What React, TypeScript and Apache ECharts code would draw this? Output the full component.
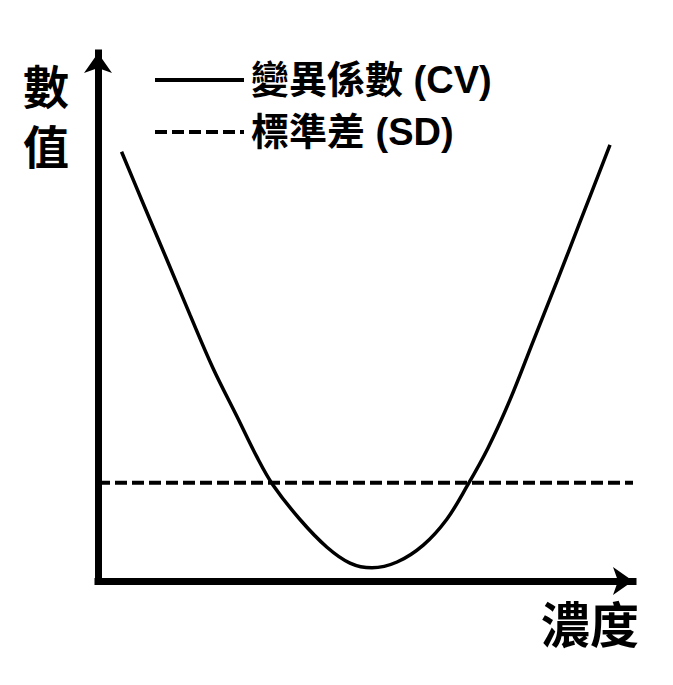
import React, { useEffect, useRef } from 'react';
import * as echarts from 'echarts';

// concentration (x) and values, both axes run 0..10
const cvConc = [0.44, 0.84, 1.29, 1.72, 2.15, 2.6, 2.97, 3.27, 3.78, 4.28, 4.71, 5.12, 5.59, 6.08, 6.52, 6.9, 7.29, 7.7, 8.13, 8.58, 9.01, 9.57];
const cvValues = [8.13, 7.16, 6.08, 5.04, 4.03, 3.11, 2.35, 1.82, 1.16, 0.64, 0.34, 0.25, 0.36, 0.68, 1.17, 1.8, 2.52, 3.43, 4.53, 5.68, 6.8, 8.26];
const sdConc = [0, 10];
const sdValues = [1.86, 1.86];

const seriesNames = ['變異係數 (CV)', '標準差 (SD)'];
const yAxisTitle = '數\n值';
const xAxisTitle = '濃度';

const FONT = '"Liberation Sans", "Noto Sans CJK TC", sans-serif';

export default function App(): JSX.Element {
    const chartRef = useRef<HTMLDivElement>(null);

    useEffect(() => {
        if (chartRef.current === null) return;
        const chart = echarts.init(chartRef.current, undefined, { renderer: 'svg' });

        const axisLine = {
            show: true,
            symbol: ['none', 'arrow'],
            symbolSize: [21, 20],
            lineStyle: { color: '#000', width: 7, cap: 'square' },
        };

        const option: echarts.EChartsOption = {
            animation: false,
            backgroundColor: '#fff',
            grid: { left: 98, right: 40, top: 53, bottom: 104 },
            xAxis: {
                type: 'value',
                min: 0,
                max: 10,
                axisLine: axisLine as any,
                axisTick: { show: false },
                axisLabel: { show: false },
                splitLine: { show: false },
            },
            yAxis: {
                type: 'value',
                min: 0,
                max: 10,
                axisLine: axisLine as any,
                axisTick: { show: false },
                axisLabel: { show: false },
                splitLine: { show: false },
            },
            legend: {
                orient: 'vertical',
                left: 148,
                top: 56,
                itemWidth: 89,
                itemHeight: 14,
                itemGap: 14,
                itemStyle: { opacity: 0 },
                lineStyle: { width: 4 },
                textStyle: {
                    color: '#000',
                    fontSize: 38,
                    fontWeight: 'bold',
                    fontFamily: FONT,
                    lineHeight: 36,
                    padding: [0, 0, 0, 2],
                },
                data: seriesNames,
            },
            graphic: [
                {
                    type: 'text',
                    x: 46,
                    y: 58,
                    style: {
                        text: yAxisTitle,
                        fontSize: 46,
                        fontWeight: 'bold',
                        fontFamily: FONT,
                        lineHeight: 60,
                        fill: '#000',
                        align: 'center',
                        verticalAlign: 'top',
                    },
                },
                {
                    type: 'text',
                    x: 639,
                    y: 626,
                    style: {
                        text: xAxisTitle,
                        fontSize: 49,
                        fontWeight: 'bold',
                        fontFamily: FONT,
                        fill: '#000',
                        align: 'right',
                        verticalAlign: 'middle',
                    },
                },
            ],
            series: [
                {
                    name: seriesNames[0],
                    type: 'line',
                    smooth: 0.35,
                    showSymbol: false,
                    symbol: 'none',
                    lineStyle: { color: '#000', width: 3.5 },
                    itemStyle: { color: '#000' },
                    data: cvConc.map((x, i) => [x, cvValues[i]]),
                },
                {
                    name: seriesNames[1],
                    type: 'line',
                    showSymbol: false,
                    symbol: 'none',
                    lineStyle: { color: '#000', width: 4, type: [12, 5] },
                    itemStyle: { color: '#000' },
                    data: sdConc.map((x, i) => [x, sdValues[i]]),
                },
            ],
        };

        chart.setOption(option);
        return () => {
            chart.dispose();
        };
    }, []);

    return (
        <div
            ref={chartRef}
            style={{ position: 'fixed', left: 0, top: 0, width: 673, height: 685 }}
        />
    );
}
